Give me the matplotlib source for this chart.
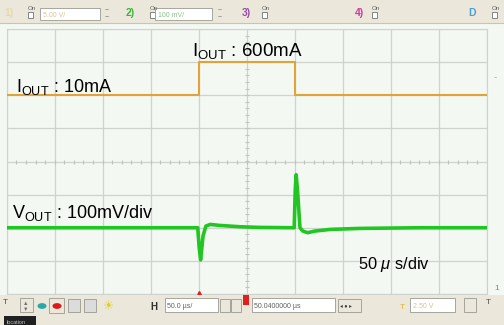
import numpy as np
import matplotlib
matplotlib.use("Agg")
from matplotlib import pyplot as plt
from matplotlib.patches import Rectangle, Circle

plt.rcParams["font.family"] = ["Liberation Sans", "DejaVu Sans"]
plt.rcParams["mathtext.fontset"] = "custom"
plt.rcParams["mathtext.rm"] = "Liberation Sans"
plt.rcParams["mathtext.it"] = "Liberation Sans:italic"

# %% data (time in us, 50 us/div, 10 divisions)
t_iout = [0, 200, 200, 300, 300, 500]
i_out_ma = [10, 10, 600, 600, 10, 10]

t_vout = [0, 100, 199, 200.5, 202, 204.5, 207.5, 212, 222, 243, 264, 299.5,
          300.5, 301.5, 303, 305.5, 308.5, 313.5, 321, 337, 368, 430, 500]
dv_mv = [0, 0, 0, -60, -97, -25, 5, 10, 7, 3, 1, 0,
         110, 160, 110, 0, -10, -15, -10, -5, -2, 0, 0]

# channel placement on screen (divisions)
iout_low, iout_high = 2.0, 3.0
vout_offset = -2.0

BG = "#f4f8f2"
BAR = "#ebe8db"
GRID = "#cfd3cd"
ORANGE = "#e2a23a"
GREEN = "#22c622"


def px(x, y):
    return x / 504, 1 - y / 325


fig = plt.figure(figsize=(5.04, 3.25), dpi=100, facecolor=BG)
ax = fig.add_axes([6.7 / 504, 1 - 294 / 325, 480 / 504, 265 / 325])
ax.set_facecolor(BG)
ax.set_xlim(0, 500)
ax.set_ylim(-4, 4)
for x in range(0, 501, 50):
    ax.axvline(x, color=GRID, lw=0.9, zorder=1)
for y in range(-4, 5):
    ax.axhline(y, color=GRID, lw=0.9, zorder=1)
ax.plot(np.arange(10, 500, 10), np.zeros(49), "|", color="#c0c4be", ms=3, mew=0.8, zorder=1)
ax.plot(np.full(39, 250), np.arange(-3.8, 4, 0.2), "_", color="#c0c4be", ms=3, mew=0.8, zorder=1)
for s in ax.spines.values():
    s.set_color(GRID)
ax.set_xticks([])
ax.set_yticks([])

# traces
i_div = [iout_low + (v - i_out_ma[0]) / (max(i_out_ma) - i_out_ma[0]) * (iout_high - iout_low)
         for v in i_out_ma]
ax.plot(t_iout, i_div, color=ORANGE, lw=1.5, zorder=3)
v_div = [vout_offset + v / 100 for v in dv_mv]
ax.plot(t_vout, v_div, color=GREEN, lw=2.6, zorder=3, solid_joinstyle="round")

# trigger marker
ax.plot([200], [-4], marker="^", color="#e02020", ms=4, clip_on=False, zorder=4)

# annotations
fs = 13
fig.text(*px(16, 92), r"$\mathrm{I}_{\mathrm{OUT}}$ : 10mA", fontsize=fs, va="baseline")
fig.text(*px(192, 56), r"$\mathrm{I}_{\mathrm{OUT}}$ : 600mA", fontsize=13.5, va="baseline")
fig.text(*px(12, 218), r"$\mathrm{V}_{\mathrm{OUT}}$ : 100mV/div", fontsize=fs, va="baseline")
fig.text(*px(358, 269), r"50 $\mu$ s/div", fontsize=11.8, va="baseline")

# right side channel markers
fig.text(*px(494, 80), "-", color=ORANGE, fontsize=7)
fig.text(*px(494, 290), "1", color=GREEN, fontsize=6)

# top toolbar
fig.patches.append(Rectangle((0, 1 - 23 / 325), 1, 23 / 325, transform=fig.transFigure,
                             facecolor=BAR, edgecolor="none"))
fig.lines.append(plt.Line2D([0, 1], [1 - 23 / 325] * 2, transform=fig.transFigure,
                            color="#c8c4b4", lw=0.8))


def box(x0, y0, x1, y1, fc="white", ec="#9a9a90"):
    fig.patches.append(Rectangle(px(x0, y1), (x1 - x0) / 504, (y1 - y0) / 325,
                                 transform=fig.transFigure, facecolor=fc, edgecolor=ec, lw=0.6))


def dot(x, y, r, fc):
    fig.patches.append(Circle(px(x, y), r / 504, transform=fig.transFigure,
                              facecolor=fc, edgecolor="none"))


chan = [("1)", 4, "#e8d9a8", 28), ("2)", 126, "#3cb43c", 150),
        ("3)", 242, "#9a4aa8", 262), ("4)", 355, "#cc3aa0", 372),
        ("D", 468, "#4aa0d0", 492)]
for lab, x, c, xon in chan:
    fig.text(*px(x, 16), lab, fontsize=7.5, color=c, fontweight="bold", va="baseline")
    fig.text(*px(xon, 10), "On", fontsize=4.5, color="#606060", va="baseline")
    box(xon, 12, xon + 5, 18, fc="white", ec="#707070")

box(40, 8, 100, 20)
fig.text(*px(43, 17), "5.00 V/", fontsize=5, color="#d8c490", va="baseline")
box(155, 8, 212, 20)
fig.text(*px(158, 17), "100 mV/", fontsize=5, color="#8cc08c", va="baseline")
for x in (103, 216):
    fig.text(*px(x + 2, 12), "~", fontsize=5, color="#606060", va="baseline")
    fig.text(*px(x + 2, 19), "~", fontsize=5, color="#606060", va="baseline")

# bottom toolbar
fig.patches.append(Rectangle((0, 0), 1, 30 / 325, transform=fig.transFigure,
                             facecolor=BAR, edgecolor="none"))
fig.text(*px(3, 304), "T", fontsize=6, color="#505050", va="baseline")
box(20, 298, 33, 312, fc=BAR)
fig.text(*px(23, 305), "▲", fontsize=4, color="#707070", va="baseline")
fig.text(*px(23, 311), "▼", fontsize=4, color="#707070", va="baseline")
dot(42, 306, 4.5, "#2aa8a8")
box(49, 298, 64, 313, fc=BAR)
dot(57, 306, 4.5, "#e01818")
box(68, 299, 80, 312, fc="#dcdcdc")
box(84, 299, 96, 312, fc="#dcdcdc")
fig.text(*px(103, 310), "☀", fontsize=9, color="#e0d020", va="baseline")
fig.text(*px(150, 310), "H", fontsize=7, color="#303030", fontweight="bold", va="baseline")
box(165, 298, 218, 312)
fig.text(*px(167, 308), "50.0 µs/", fontsize=5, color="#606060", va="baseline")
box(220, 299, 230, 312, fc=BAR)
box(231, 299, 241, 312, fc=BAR)
fig.patches.append(Rectangle(px(243, 305), 6 / 504, 10 / 325, transform=fig.transFigure,
                             facecolor="#e02020", edgecolor="none"))
box(252, 298, 335, 312)
fig.text(*px(254, 308), "50.0400000 µs", fontsize=5, color="#606060", va="baseline")
box(338, 299, 361, 312, fc=BAR)
fig.text(*px(340, 308), "◂ ● ▸", fontsize=4, color="#404040", va="baseline")
fig.text(*px(400, 309), "T", fontsize=6, color="#e0b040", va="baseline")
box(410, 298, 455, 312)
fig.text(*px(413, 308), "2.50 V", fontsize=5, color="#d8c490", va="baseline")
box(464, 298, 476, 312, fc=BAR)
fig.text(*px(486, 304), "T", fontsize=6, color="#505050", va="baseline")
fig.patches.append(Rectangle(px(4, 325), 32 / 504, 9 / 325, transform=fig.transFigure,
                             facecolor="#202020", edgecolor="none"))
fig.text(*px(7, 324), "location", fontsize=4, color="#c0c0c0", va="baseline")

plt.savefig("out.png", dpi=100, facecolor=BG)
